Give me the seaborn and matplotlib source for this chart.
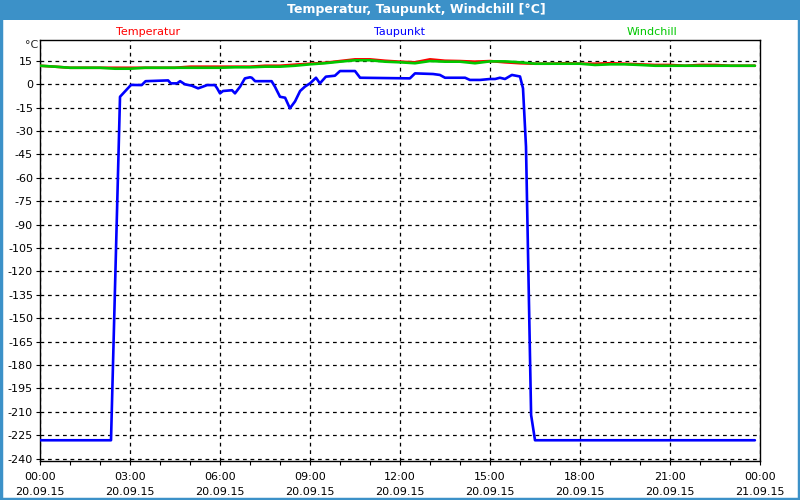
import numpy as np
import pandas as pd
import matplotlib
matplotlib.use("Agg")
import matplotlib.pyplot as plt
from matplotlib.patches import Rectangle
import matplotlib.ticker as mticker
import seaborn as sns

# ---------------- data (hours since 20.09.15 00:00, °C) ----------------
temp_hours = [0, 0.5, 1, 1.5, 2, 2.5, 3, 3.5, 4, 4.5, 5, 5.5, 6, 6.5, 7, 7.5, 8, 8.5,
              9, 9.5, 10, 10.5, 11, 11.5, 12, 12.5, 13, 13.5, 14, 14.5, 15, 15.5, 16,
              16.5, 17, 17.5, 18, 18.5, 19, 19.5, 20, 20.5, 21, 21.5, 22, 22.5, 23,
              23.5, 23.83]
temperatur = [11.9, 11.3, 10.6, 10.6, 10.6, 10.6, 10.6, 10.6, 10.6, 10.6, 11.3, 11.3,
              11.3, 11.3, 11.3, 11.9, 11.9, 12.6, 13.2, 13.8, 14.9, 16.0, 16.0, 15.1,
              14.5, 14.1, 16.0, 15.1, 14.9, 14.5, 14.9, 14.1, 13.5, 13.2, 13.2, 13.5,
              13.2, 13.2, 13.5, 13.2, 12.8, 12.4, 12.4, 11.9, 12.4, 12.4, 11.9, 11.9,
              11.9]
windchill = [11.9, 11.3, 10.6, 10.6, 10.6, 10.0, 10.0, 10.6, 10.6, 10.6, 10.6, 10.6,
             10.6, 10.9, 10.9, 11.3, 11.3, 11.9, 12.8, 13.5, 14.5, 15.4, 15.4, 14.5,
             14.1, 13.5, 14.9, 14.5, 14.5, 13.5, 14.7, 14.7, 14.1, 13.2, 13.2, 13.2,
             13.2, 12.4, 12.8, 12.8, 12.4, 11.9, 11.9, 11.9, 11.9, 11.9, 11.9, 11.9,
             11.9]

dew_hours = [0.0, 2.367, 2.667, 3.033, 3.39, 3.52, 4.27, 4.36, 4.57, 4.67, 4.83, 5.06,
             5.27, 5.43, 5.57, 5.83, 5.9, 6.0, 6.1, 6.4, 6.5, 6.67, 6.83, 7.0, 7.06,
             7.17, 7.72, 7.83, 8.0, 8.17, 8.33, 8.5, 8.67, 8.83, 9.0, 9.2, 9.33, 9.53,
             9.83, 10.0, 10.5, 10.67, 12.33, 12.5, 13.1, 13.33, 13.5, 14.17, 14.33,
             14.67, 15.0, 15.17, 15.33, 15.5, 15.73, 16.0, 16.1, 16.2, 16.37, 16.5,
             23.83]
taupunkt = [-228.2, -228.2, -8.0, -0.4, -0.5, 2.0, 2.5, 0.6, 0.6, 2.0, 0.0, -0.9,
            -2.6, -1.5, -0.5, -0.5, -2.4, -5.8, -4.3, -3.8, -5.8, -1.5, 3.8, 4.5, 4.2,
            2.0, 2.0, -1.5, -8.0, -8.6, -15.4, -11.0, -4.3, -1.5, 0.6, 4.2, 0.6, 4.9,
            5.5, 8.5, 8.5, 4.2, 3.8, 7.0, 6.6, 6.0, 4.2, 4.2, 2.8, 2.8, 3.4, 3.4, 4.2,
            3.4, 6.0, 5.0, -2.6, -40.0, -212.0, -228.2, -228.2]

series_labels = ["Temperatur", "Taupunkt", "Windchill"]
title = "Temperatur, Taupunkt, Windchill [°C]"
y_ticks = list(range(15, -241, -15))
x_tick_hours = [0, 3, 6, 9, 12, 15, 18, 21, 24]
x_tick_labels = ["00:00\n20.09.15", "03:00\n20.09.15", "06:00\n20.09.15",
                 "09:00\n20.09.15", "12:00\n20.09.15", "15:00\n20.09.15",
                 "18:00\n20.09.15", "21:00\n20.09.15", "00:00\n21.09.15"]

# ---------------- styling ----------------
RED = "#ff0000"
BLUE = "#0000ff"
GREEN = "#00c800"
FRAME = "#3c91c8"

sns.set_style("white")
plt.rcParams["font.family"] = ["DejaVu Sans"]

fig = plt.figure(figsize=(8, 5), dpi=100)
fig.patch.set_facecolor("white")

# title bar and frame
fig.add_artist(Rectangle((0, 1 - 20 / 500), 1, 20 / 500, transform=fig.transFigure,
                         facecolor=FRAME, edgecolor="none", zorder=0))
fig.add_artist(Rectangle((0.001, 0.002), 0.998, 0.996, transform=fig.transFigure,
                         facecolor="none", edgecolor=FRAME, linewidth=2.5, zorder=0))
fig.text(416 / 800, 1 - 10 / 500, title, color="white", fontsize=9, fontweight="semibold",
         ha="center", va="center")

ax = fig.add_axes([40 / 800, 1 - 461 / 500, 720 / 800, 421 / 500])

df_t = pd.DataFrame({"h": temp_hours, "v": temperatur})
df_w = pd.DataFrame({"h": temp_hours, "v": windchill})
df_d = pd.DataFrame({"h": dew_hours, "v": taupunkt})

lw = 1.9
sns.lineplot(data=df_t, x="h", y="v", ax=ax, color=RED, linewidth=lw, zorder=3)
sns.lineplot(data=df_w, x="h", y="v", ax=ax, color=GREEN, linewidth=lw, zorder=4)
sns.lineplot(data=df_d, x="h", y="v", ax=ax, color=BLUE, linewidth=lw, zorder=5)

ax.set_xlim(0, 24)
ax.set_ylim(-241.5, 28.4)
ax.set_xlabel("")
ax.set_ylabel("")

ax.set_yticks(y_ticks)
ax.set_yticklabels([str(v) for v in y_ticks])
ax.set_xticks(x_tick_hours)
ax.set_xticklabels(x_tick_labels)
ax.xaxis.set_minor_locator(mticker.MultipleLocator(1))

ax.grid(True, which="major", color="black", linestyle=(0, (3, 3)), linewidth=0.9)
ax.tick_params(axis="both", which="major", direction="out", length=3, width=0.8,
               color="black", labelsize=8, labelcolor="black", pad=2)
ax.tick_params(axis="x", which="major", pad=5, labelsize=8)
ax.tick_params(axis="x", which="minor", direction="out", length=3, width=0.8,
               color="black", bottom=True)
ax.tick_params(axis="x", bottom=True)
ax.tick_params(axis="y", left=True)
for lab in ax.get_xticklabels():
    lab.set_linespacing(1.6)
for s in ax.spines.values():
    s.set_color("black")
    s.set_linewidth(1.0)

# unit label
fig.text(32 / 800, 1 - 45 / 500, "°C", fontsize=8, ha="center", va="center")

# series labels
fig.text(148 / 800, 1 - 32 / 500, series_labels[0], color=RED, fontsize=8,
         ha="center", va="center")
fig.text(399 / 800, 1 - 32 / 500, series_labels[1], color=BLUE, fontsize=8,
         ha="center", va="center")
fig.text(652 / 800, 1 - 32 / 500, series_labels[2], color=GREEN, fontsize=8,
         ha="center", va="center")

fig.savefig("out.png", dpi=100)
